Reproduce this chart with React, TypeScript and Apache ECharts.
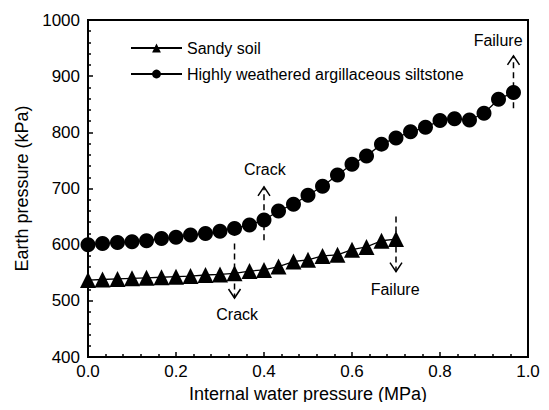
import React, { useEffect, useRef } from 'react';
import * as echarts from 'echarts';

// Internal water pressure (MPa)
const siltX = [0, 0.033, 0.067, 0.1, 0.133, 0.167, 0.2, 0.233, 0.267, 0.3, 0.333, 0.367, 0.4, 0.433, 0.467, 0.5, 0.533, 0.567, 0.6, 0.633, 0.667, 0.7, 0.733, 0.767, 0.8, 0.833, 0.867, 0.9, 0.933, 0.967];
const siltY = [600, 602, 604, 605, 607, 611, 613, 617, 620, 624, 629, 635, 644, 660, 672, 688, 704, 724, 743, 758, 779, 790, 801, 809, 821, 824, 822, 834, 859, 871];

const sandX = [0, 0.033, 0.067, 0.1, 0.133, 0.167, 0.2, 0.233, 0.267, 0.3, 0.333, 0.367, 0.4, 0.433, 0.467, 0.5, 0.533, 0.567, 0.6, 0.633, 0.667, 0.7];
const sandY = [537, 538, 539, 540, 541, 542, 543, 544, 546, 547, 549, 553, 555, 561, 570, 573, 580, 582, 591, 596, 607, 610];

const seriesNames = ['Sandy soil', 'Highly weathered argillaceous siltstone'];

// Annotations: arrow x, arrow start value, arrow tip value, label, label x, label y
const annX = [0.4, 0.333, 0.7, 0.967];
const annFrom = [608, 602, 650, 843];
const annTo = [703, 505, 552, 936];
const annLabel = ['Crack', 'Crack', 'Failure', 'Failure'];
const annLabelX = [0.402, 0.339, 0.698, 0.932];
const annLabelY = [733, 476, 520, 964];

const xTicks = { min: 0, max: 1, interval: 0.2 };
const yTicks = { min: 400, max: 1000, interval: 100 };

const FONT = '"Liberation Sans", Arial, sans-serif';

export default function App() {
  const ref = useRef<HTMLDivElement>(null);
  useEffect(() => {
    if (!ref.current) return;
    const chart = echarts.init(ref.current, undefined, { renderer: 'svg' });
    const annData = annX.map((x, i) => [x, annFrom[i], annTo[i], annLabelX[i], annLabelY[i]]);
    const option: any = {
      animation: false,
      backgroundColor: '#fff',
      textStyle: { fontFamily: FONT, color: '#000' },
      grid: { left: 88, right: 21, top: 20, bottom: 53, show: true, borderColor: '#000', borderWidth: 2, backgroundColor: 'transparent' },
      legend: {
        data: seriesNames,
        orient: 'vertical',
        left: 125,
        top: 35,
        itemWidth: 51,
        itemHeight: 11,
        itemGap: 10,
        textStyle: { fontSize: 16, color: '#000', fontFamily: FONT },
      },
      xAxis: {
        type: 'value',
        min: xTicks.min,
        max: xTicks.max,
        interval: xTicks.interval,
        name: 'Internal water pressure (MPa)',
        nameLocation: 'middle',
        nameGap: 26,
        nameTextStyle: { fontSize: 18, color: '#000', fontFamily: FONT },
        axisLine: { lineStyle: { color: '#000', width: 2 } },
        axisTick: { inside: true, length: 5, lineStyle: { color: '#000', width: 1.5 } },
        minorTick: { show: true, splitNumber: 5, length: 3, lineStyle: { color: '#000', width: 1.5 } },
        splitLine: { show: false },
        axisLabel: { fontSize: 17, color: '#000', margin: 6, fontFamily: FONT, formatter: (v: number) => v.toFixed(1) },
      },
      yAxis: {
        type: 'value',
        min: yTicks.min,
        max: yTicks.max,
        interval: yTicks.interval,
        name: 'Earth pressure (kPa)',
        nameLocation: 'middle',
        nameGap: 50,
        nameTextStyle: { fontSize: 18, color: '#000', fontFamily: FONT },
        axisLine: { lineStyle: { color: '#000', width: 2 } },
        axisTick: { inside: true, length: 5, lineStyle: { color: '#000', width: 1.5 } },
        minorTick: { show: true, splitNumber: 5, length: 3, lineStyle: { color: '#000', width: 1.5 } },
        splitLine: { show: false },
        axisLabel: { fontSize: 17, color: '#000', margin: 8, fontFamily: FONT, formatter: (v: number) => String(v) },
      },
      series: [
        {
          type: 'custom',
          name: 'annotations',
          coordinateSystem: 'cartesian2d',
          encode: { x: 0, y: 1 },
          silent: true,
          clip: false,
          data: annData,
          renderItem: (params: any, api: any) => {
            const i = params.dataIndex;
            const p0 = api.coord([api.value(0), api.value(1)]);
            const p1 = api.coord([api.value(0), api.value(2)]);
            const pl = api.coord([api.value(3), api.value(4)]);
            const dir = p1[1] < p0[1] ? 1 : -1; // 1: pointing up
            const hw = 6;
            const hh = 9;
            return {
              type: 'group',
              children: [
                {
                  type: 'line',
                  shape: { x1: p0[0], y1: p0[1], x2: p1[0], y2: p1[1] },
                  style: { stroke: '#000', lineWidth: 1.5, lineDash: [6, 4] },
                },
                {
                  type: 'polyline',
                  shape: { points: [[p1[0] - hw, p1[1] + dir * hh], [p1[0], p1[1]], [p1[0] + hw, p1[1] + dir * hh]] },
                  style: { stroke: '#000', lineWidth: 1.5, fill: 'none' },
                },
                {
                  type: 'text',
                  x: pl[0],
                  y: pl[1],
                  style: {
                    text: annLabel[i],
                    fontSize: 16,
                    fontFamily: FONT,
                    fill: '#000',
                    align: 'center',
                    verticalAlign: 'middle',
                  },
                },
              ],
            };
          },
        },
        {
          type: 'line',
          name: seriesNames[0],
          data: sandX.map((x, i) => [x, sandY[i]]),
          symbol: 'triangle',
          symbolSize: 16,
          lineStyle: { color: '#000', width: 1.3 },
          itemStyle: { color: '#000' },
        },
        {
          type: 'line',
          name: seriesNames[1],
          data: siltX.map((x, i) => [x, siltY[i]]),
          symbol: 'circle',
          symbolSize: 15,
          lineStyle: { color: '#000', width: 1.3 },
          itemStyle: { color: '#000' },
        },
      ],
    };
    chart.setOption(option);
    return () => chart.dispose();
  }, []);
  return <div ref={ref} style={{ width: 549, height: 410, margin: -8 }} />;
}
